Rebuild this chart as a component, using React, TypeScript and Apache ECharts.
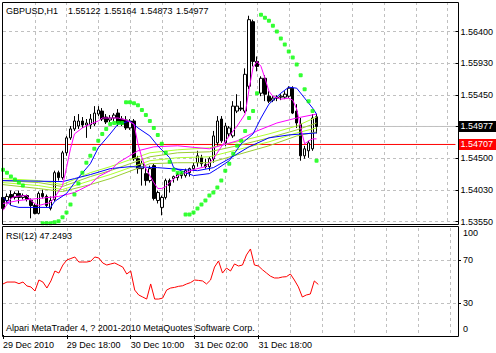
import React, { useEffect, useRef } from "react";
import * as echarts from "echarts";

const FONT = "'Liberation Sans', Arial, sans-serif";

// ---- texts ----
const symbolTitle = "GBPUSD,H1";
const lastBarOHLC = ["1.55122", "1.55164", "1.54873", "1.54977"];
const rsiTitle = "RSI(12) 47.2493";
const copyright = "Alpari MetaTrader 4, ? 2001-2010 MetaQuotes Software Corp.";
const timeTickLabels = ["29 Dec 2010", "29 Dec 18:00", "30 Dec 10:00", "31 Dec 02:00", "31 Dec 18:00"];

// ---- axes ----
const slotCount = 115; // bar slots across the window (incl. empty right shift)
const barsPerTimeLabel = 16;
const barsPerGridLine = 8;
const priceMin = 1.53499;
const priceMax = 1.56844;
const priceTickValues = [1.5355, 1.54025, 1.545, 1.54975, 1.5545, 1.55925, 1.564];
const priceTickLabels = ["1.53550", "1.54030", "1.54500", "", "1.55450", "1.55930", "1.56400"];
const rsiLabelValues = [0, 30, 70, 100];
const rsiLevels = [30, 70];
const bidPrice = 1.54977;
const redLinePrice = 1.54707;

// ---- candles [open, close, low, high] ----
const candles = [
  [1.53912, 1.53748, 1.53718, 1.53971],
  [1.53867, 1.53927, 1.53822, 1.53971],
  [1.53956, 1.53912, 1.53792, 1.54016],
  [1.53912, 1.53971, 1.53882, 1.54001],
  [1.53971, 1.53912, 1.53822, 1.54016],
  [1.53912, 1.53941, 1.53882, 1.53971],
  [1.53941, 1.53882, 1.53852, 1.53956],
  [1.53867, 1.53792, 1.53599, 1.53897],
  [1.53792, 1.53673, 1.53658, 1.53822],
  [1.53673, 1.53971, 1.53658, 1.54001],
  [1.53971, 1.53927, 1.53897, 1.54031],
  [1.53927, 1.53792, 1.53763, 1.53956],
  [1.53748, 1.53867, 1.53718, 1.53927],
  [1.53882, 1.54284, 1.53852, 1.54314],
  [1.54284, 1.5421, 1.54165, 1.54314],
  [1.5421, 1.54582, 1.5418, 1.54612],
  [1.54582, 1.54806, 1.54537, 1.54835],
  [1.54806, 1.5494, 1.54776, 1.54984],
  [1.5494, 1.55059, 1.5491, 1.55133],
  [1.54984, 1.55059, 1.5494, 1.55163],
  [1.55059, 1.54999, 1.54955, 1.55118],
  [1.54999, 1.55029, 1.54806, 1.55089],
  [1.54999, 1.55089, 1.5494, 1.55163],
  [1.55014, 1.55178, 1.54984, 1.55282],
  [1.55163, 1.55223, 1.55133, 1.55282],
  [1.55208, 1.55089, 1.55059, 1.55253],
  [1.55118, 1.55044, 1.55014, 1.55163],
  [1.55074, 1.55104, 1.55044, 1.55148],
  [1.55104, 1.55148, 1.55059, 1.55178],
  [1.55178, 1.55029, 1.54984, 1.55238],
  [1.55089, 1.55014, 1.54984, 1.55133],
  [1.55074, 1.54955, 1.54925, 1.55133],
  [1.54955, 1.55059, 1.54925, 1.55089],
  [1.55059, 1.54493, 1.54463, 1.55089],
  [1.54493, 1.54344, 1.54269, 1.54537],
  [1.54344, 1.54418, 1.5409, 1.54463],
  [1.54269, 1.54165, 1.5409, 1.54359],
  [1.54165, 1.54344, 1.54135, 1.54389],
  [1.54389, 1.53897, 1.53867, 1.54418],
  [1.53867, 1.53986, 1.53822, 1.54016],
  [1.53763, 1.53912, 1.53644, 1.53941],
  [1.53912, 1.54165, 1.53882, 1.54195],
  [1.54165, 1.5409, 1.53986, 1.54195],
  [1.54195, 1.54225, 1.54135, 1.5424],
  [1.5421, 1.54254, 1.54165, 1.54284],
  [1.5424, 1.54269, 1.54195, 1.54299],
  [1.5424, 1.54314, 1.5421, 1.54344],
  [1.54284, 1.54344, 1.54225, 1.54359],
  [1.54344, 1.54389, 1.54314, 1.54433],
  [1.54433, 1.54537, 1.54374, 1.54612],
  [1.54507, 1.54418, 1.54374, 1.54552],
  [1.54403, 1.54374, 1.54344, 1.54493],
  [1.54374, 1.54493, 1.54314, 1.54522],
  [1.54493, 1.54835, 1.54433, 1.5491],
  [1.54731, 1.55059, 1.54686, 1.55133],
  [1.55089, 1.54761, 1.54731, 1.55133],
  [1.54731, 1.54984, 1.54686, 1.55029],
  [1.54865, 1.54955, 1.54821, 1.54984],
  [1.54835, 1.55282, 1.54806, 1.55357],
  [1.55208, 1.55282, 1.55178, 1.55461],
  [1.55253, 1.55238, 1.55208, 1.55357],
  [1.55208, 1.55759, 1.55178, 1.55849],
  [1.5558, 1.56579, 1.55536, 1.56638],
  [1.56549, 1.55953, 1.55878, 1.56579],
  [1.55953, 1.55878, 1.55804, 1.56027],
  [1.55476, 1.557, 1.55431, 1.5573],
  [1.557, 1.55461, 1.55357, 1.55745],
  [1.55431, 1.55357, 1.55327, 1.55506],
  [1.55372, 1.55402, 1.55342, 1.55431],
  [1.55402, 1.55417, 1.55357, 1.55446],
  [1.55417, 1.55431, 1.55372, 1.55461],
  [1.55417, 1.55461, 1.55387, 1.55506],
  [1.55431, 1.55551, 1.55402, 1.5558],
  [1.55551, 1.55178, 1.55163, 1.5558],
  [1.55208, 1.55029, 1.54955, 1.55312],
  [1.55014, 1.54537, 1.54463, 1.55104],
  [1.54537, 1.54642, 1.54493, 1.54686],
  [1.54612, 1.54731, 1.54507, 1.54761],
  [1.54642, 1.55104, 1.54612, 1.55163],
  [1.55122, 1.54977, 1.54873, 1.55164],
];

// ---- Parabolic SAR per bar ----
const sar = [
  1.54329, 1.54284, 1.54225, 1.5418, 1.54135, 1.5409, null, null, null, null,
  1.53524, 1.53524, 1.53524, 1.53539, 1.53554, 1.53614, 1.53688, 1.53807, 1.53956, 1.5412,
  1.54284, 1.54433, 1.54537, 1.54642, 1.54761, 1.54865, 1.5494, 1.55014, 1.55029, 1.55029,
  1.55029, 1.55342, 1.55342, 1.55327, 1.55297, 1.55223, 1.55148, 1.55059, 1.54955, 1.5485,
  1.54716, 1.54582, 1.54448, 1.54329, 1.54284, 1.54284, 1.53658, 1.53658, 1.53688, 1.53748,
  1.53807, 1.53867, 1.53941, 1.53986, 1.54061, 1.54165, 1.54314, 1.54418, 1.54567, 1.54686,
  1.54761, 1.5491, 1.55104, 1.55208, 1.55476, 1.56653, 1.56609, 1.56564, 1.56489, 1.564,
  1.56296, 1.56206, 1.56102, 1.56013, 1.55908, 1.55744, 1.55536, 1.55357, 1.55208, 1.54463,
];

// ---- moving averages, sampled [barIndex, price] ----
const maMagentaFast = [
  [0, 1.53718], [2, 1.53897], [3, 1.53927], [6, 1.53941], [7, 1.53867], [8, 1.53822], [9, 1.53792],
  [12, 1.53837], [13, 1.53912], [15, 1.5409], [16, 1.54359], [17, 1.54642], [18, 1.54865], [20, 1.54955],
  [22, 1.55014], [24, 1.55059], [25, 1.55104], [27, 1.55104], [29, 1.55104], [31, 1.55074], [33, 1.55014],
  [34, 1.54716], [35, 1.54508], [36, 1.54344], [38, 1.54135], [39, 1.54046], [40, 1.54046], [41, 1.54076],
  [42, 1.54135], [44, 1.5424], [46, 1.54284], [48, 1.54329], [51, 1.54374], [53, 1.54493], [55, 1.54672],
  [57, 1.54835], [59, 1.54984], [61, 1.55163], [62, 1.55536], [63, 1.55864], [64, 1.55953], [65, 1.55878],
  [66, 1.557], [67, 1.55506], [68, 1.55431], [70, 1.55387], [72, 1.55402], [73, 1.55372], [74, 1.55238],
  [75, 1.54955], [76, 1.54716], [77, 1.54761], [78, 1.54791], [79, 1.54791],
];
const maMagentaSlow = [
  [0, 1.53822], [4, 1.53867], [9, 1.53897], [14, 1.53927], [18, 1.53986], [22, 1.54105], [24, 1.54225],
  [27, 1.54314], [29, 1.54433], [34, 1.54612], [38, 1.54672], [44, 1.54687], [52, 1.54642], [59, 1.54761],
  [64, 1.5491], [69, 1.55029], [74, 1.55104], [79, 1.55163],
];
const maBlueFast = [
  [0, 1.53912], [2, 1.53792], [4, 1.53763], [12, 1.53763], [13, 1.53852], [16, 1.53971], [19, 1.5421],
  [22, 1.54418], [24, 1.54657], [27, 1.54865], [29, 1.55014], [32, 1.55059], [34, 1.54955], [37, 1.54835],
  [39, 1.54686], [42, 1.54508], [43, 1.54359], [46, 1.54284], [48, 1.5424], [52, 1.5427], [54, 1.54344],
  [57, 1.54463], [60, 1.54716], [63, 1.54865], [65, 1.55104], [67, 1.55312], [70, 1.55476], [72, 1.55566],
  [74, 1.55551], [76, 1.55402], [78, 1.55253], [79, 1.55163],
];
const maBlueSlow = [
  [0, 1.54165], [15, 1.5415], [18, 1.54195], [22, 1.54255], [27, 1.54344], [32, 1.54374], [39, 1.54359],
  [49, 1.54314], [53, 1.54359], [57, 1.54493], [62, 1.54672], [67, 1.54806], [72, 1.5485], [79, 1.5488],
];
const bundleIdx = [0, 9, 15, 22, 27, 37, 44, 52, 59, 67, 74, 79];
const maGreenA = [1.54195, 1.54165, 1.54105, 1.54284, 1.54374, 1.54582, 1.54627, 1.54657, 1.54746, 1.54865, 1.54984, 1.55118];
const maGreenB = [1.54165, 1.54135, 1.54076, 1.54225, 1.54314, 1.54522, 1.54582, 1.54597, 1.54687, 1.54806, 1.54925, 1.55029];
const maGreenC = [1.54135, 1.5409, 1.54031, 1.54165, 1.54255, 1.54463, 1.54508, 1.54522, 1.54627, 1.54746, 1.5488, 1.54955];
const maGreenD = [1.54105, 1.54046, 1.54001, 1.54105, 1.54195, 1.54418, 1.54433, 1.54433, 1.54552, 1.54687, 1.54835, 1.54895];

// ---- RSI(12) per bar ----
const rsi = [
  47.7, 49.5, 49.5, 49.5, 48.0, 49.5, 45.8, 44.9, 41.1, 51.4,
  49.5, 43.9, 50.5, 59.8, 57.9, 65.4, 70.1, 71.5, 72.9, 68.2,
  68.2, 68.2, 69.0, 72.9, 72.0, 67.3, 65.4, 66.4, 67.3, 65.4,
  63.5, 57.0, 59.8, 42.0, 37.4, 35.5, 33.6, 47.7, 33.6, 33.6,
  34.5, 42.0, 43.9, 44.5, 45.5, 46.0, 47.7, 49.0, 51.4, 51.0,
  50.5, 47.7, 51.4, 63.5, 69.2, 57.9, 62.6, 59.8, 66.4, 64.5,
  65.4, 74.8, 80.4, 65.4, 64.5, 61.0, 58.0, 55.0, 53.3, 53.3,
  54.2, 54.5, 57.0, 51.4, 45.0, 35.5, 37.4, 38.3, 50.5, 47.2493,
];

const GRID_COLOR = "#C0C0C0";

export default function App() {
  const ref = useRef<HTMLDivElement>(null);
  useEffect(() => {
    const el = ref.current;
    if (!el) return;
    const chart = echarts.init(el, null, { renderer: "svg" });
    const slots = Array.from({ length: slotCount }, (_, i) => String(i));
    const labelled = (i: number) => i % barsPerTimeLabel === 0 && i / barsPerTimeLabel < timeTickLabels.length;
    const gridLineAt = (i: number) => i > 0 && i % barsPerGridLine === 0;
    const priceLabel = (v: number) => {
      let best = 0;
      priceTickValues.forEach((t, i) => {
        if (Math.abs(t - v) < Math.abs(priceTickValues[best] - v)) best = i;
      });
      return priceTickLabels[best];
    };
    const dashed = { color: GRID_COLOR, type: [3, 3] as any, width: 1 };
    const lineSeries = (data: any[], color: string) => ({
      type: "line",
      xAxisIndex: 0,
      yAxisIndex: 0,
      data,
      symbol: "none",
      showSymbol: false,
      clip: true,
      lineStyle: { color, width: 1 },
      z: 3,
    });
    const bundle = (vals: number[]) => vals.map((v, k) => [bundleIdx[k], v]);
    const priceLineSeries = (value: number, lineColor: string, boxColor: string) => ({
      type: "line",
      xAxisIndex: 0,
      yAxisIndex: 0,
      data: [[0, value], [slotCount - 1, value]],
      symbol: "none",
      showSymbol: false,
      silent: true,
      lineStyle: { color: lineColor, width: 1 },
      z: 2,
      endLabel: {
        show: true,
        formatter: value.toFixed(5),
        distance: 3,
        backgroundColor: boxColor,
        color: "#FFFFFF",
        fontFamily: FONT,
        fontSize: 9,
        lineHeight: 10,
        padding: [1, 10, 0, 2],
      },
    });
    const titleParts = [symbolTitle, ...lastBarOHLC];
    const titleX = [6, 68, 104, 140, 176];

    const option: any = {
      animation: false,
      backgroundColor: "#FFFFFF",
      textStyle: { fontFamily: FONT },
      grid: [
        { left: 3, top: 2, width: 455, height: 223 },
        { left: 3, top: 228, width: 455, height: 107 },
      ],
      xAxis: [
        {
          type: "category", gridIndex: 0, data: slots, boundaryGap: false,
          axisLine: { show: false }, axisTick: { show: false }, axisLabel: { show: false },
          splitLine: { show: true, interval: (i: number) => gridLineAt(i), lineStyle: dashed },
        },
        {
          type: "category", gridIndex: 1, data: slots, boundaryGap: false,
          axisLine: { show: false },
          axisTick: { show: true, interval: (i: number) => labelled(i), length: 4, lineStyle: { color: "#000" } },
          axisLabel: {
            show: true, interval: (i: number) => labelled(i), align: "left", margin: 5,
            fontFamily: FONT, fontSize: 9, color: "#000",
            formatter: (v: string) => timeTickLabels[Number(v) / barsPerTimeLabel] ?? "",
          },
          splitLine: { show: true, interval: (i: number) => gridLineAt(i), lineStyle: dashed },
        },
      ],
      yAxis: [
        {
          type: "value", gridIndex: 0, position: "right", min: priceMin, max: priceMax,
          axisLine: { show: false },
          axisTick: { show: true, length: 3, customValues: priceTickValues, lineStyle: { color: "#000" } },
          axisLabel: {
            customValues: priceTickValues.filter((_, i) => priceTickLabels[i] !== ""),
            formatter: (v: number) => priceLabel(v),
            margin: 5, fontFamily: FONT, fontSize: 9, color: "#000",
          },
          splitLine: { show: true, lineStyle: dashed },
        },
        {
          type: "value", gridIndex: 1, position: "right", min: 0, max: 100,
          axisLine: { show: false },
          axisTick: { show: true, length: 3, customValues: rsiLevels, lineStyle: { color: "#000" } },
          axisLabel: {
            customValues: rsiLabelValues,
            margin: 5, fontFamily: FONT, fontSize: 9, color: "#000",
            formatter: (v: number) => (v === 100 ? "{t|100}" : v === 0 ? "{b|0}" : String(v)),
            rich: {
              t: { padding: [10, 0, 0, 0], fontFamily: FONT, fontSize: 9, color: "#000" },
              b: { padding: [0, 0, 12, 0], fontFamily: FONT, fontSize: 9, color: "#000" },
            },
          },
          splitLine: { show: true, lineStyle: dashed },
        },
      ],
      series: [
        priceLineSeries(bidPrice, "#C0C0C0", "#000000"),
        priceLineSeries(redLinePrice, "#FF0000", "#FF0000"),
        {
          type: "candlestick", xAxisIndex: 0, yAxisIndex: 0, data: candles, barWidth: 3,
          itemStyle: { color: "#FFFFFF", color0: "#000000", borderColor: "#000000", borderColor0: "#000000", borderWidth: 1 },
          z: 2,
        },
        lineSeries(bundle(maGreenD), "#9ACD32"),
        lineSeries(bundle(maGreenC), "#ADFF2F"),
        lineSeries(bundle(maGreenB), "#9ACD32"),
        lineSeries(bundle(maGreenA), "#ADFF2F"),
        lineSeries(maBlueSlow, "#0000FF"),
        lineSeries(maMagentaSlow, "#FF00FF"),
        lineSeries(maBlueFast, "#0000FF"),
        lineSeries(maMagentaFast, "#FF00FF"),
        {
          type: "scatter", xAxisIndex: 0, yAxisIndex: 0, data: sar,
          symbol: "roundRect", symbolSize: 4, clip: true,
          itemStyle: { color: "#00FF00" }, z: 4,
        },
        {
          type: "line", xAxisIndex: 1, yAxisIndex: 1, data: rsi,
          symbol: "none", showSymbol: false, lineStyle: { color: "#FF0000", width: 1 },
        },
      ],
      graphic: [
        { type: "rect", z: 100, shape: { x: 2.5, y: 2.5, width: 456, height: 222 }, style: { fill: "none", stroke: "#000", lineWidth: 1 } },
        { type: "rect", z: 100, shape: { x: 2.5, y: 226.5, width: 456, height: 110 }, style: { fill: "none", stroke: "#000", lineWidth: 1 } },
        ...titleParts.map((t, k) => ({
          type: "text", z: 100, left: titleX[k], top: 6, style: { text: t, fill: "#000", font: `9px ${FONT}` },
        })),
        { type: "text", z: 100, left: 6, top: 231, style: { text: rsiTitle, fill: "#000", font: `9px ${FONT}` } },
        { type: "text", z: 100, left: 6, top: 323, style: { text: copyright, fill: "#000", font: `9px ${FONT}` } },
      ],
    };
    chart.setOption(option);
    return () => chart.dispose();
  }, []);
  return (
    <div
      ref={ref}
      style={{ position: "fixed", left: 0, top: 0, width: 496, height: 353, background: "#FFFFFF" }}
    />
  );
}
